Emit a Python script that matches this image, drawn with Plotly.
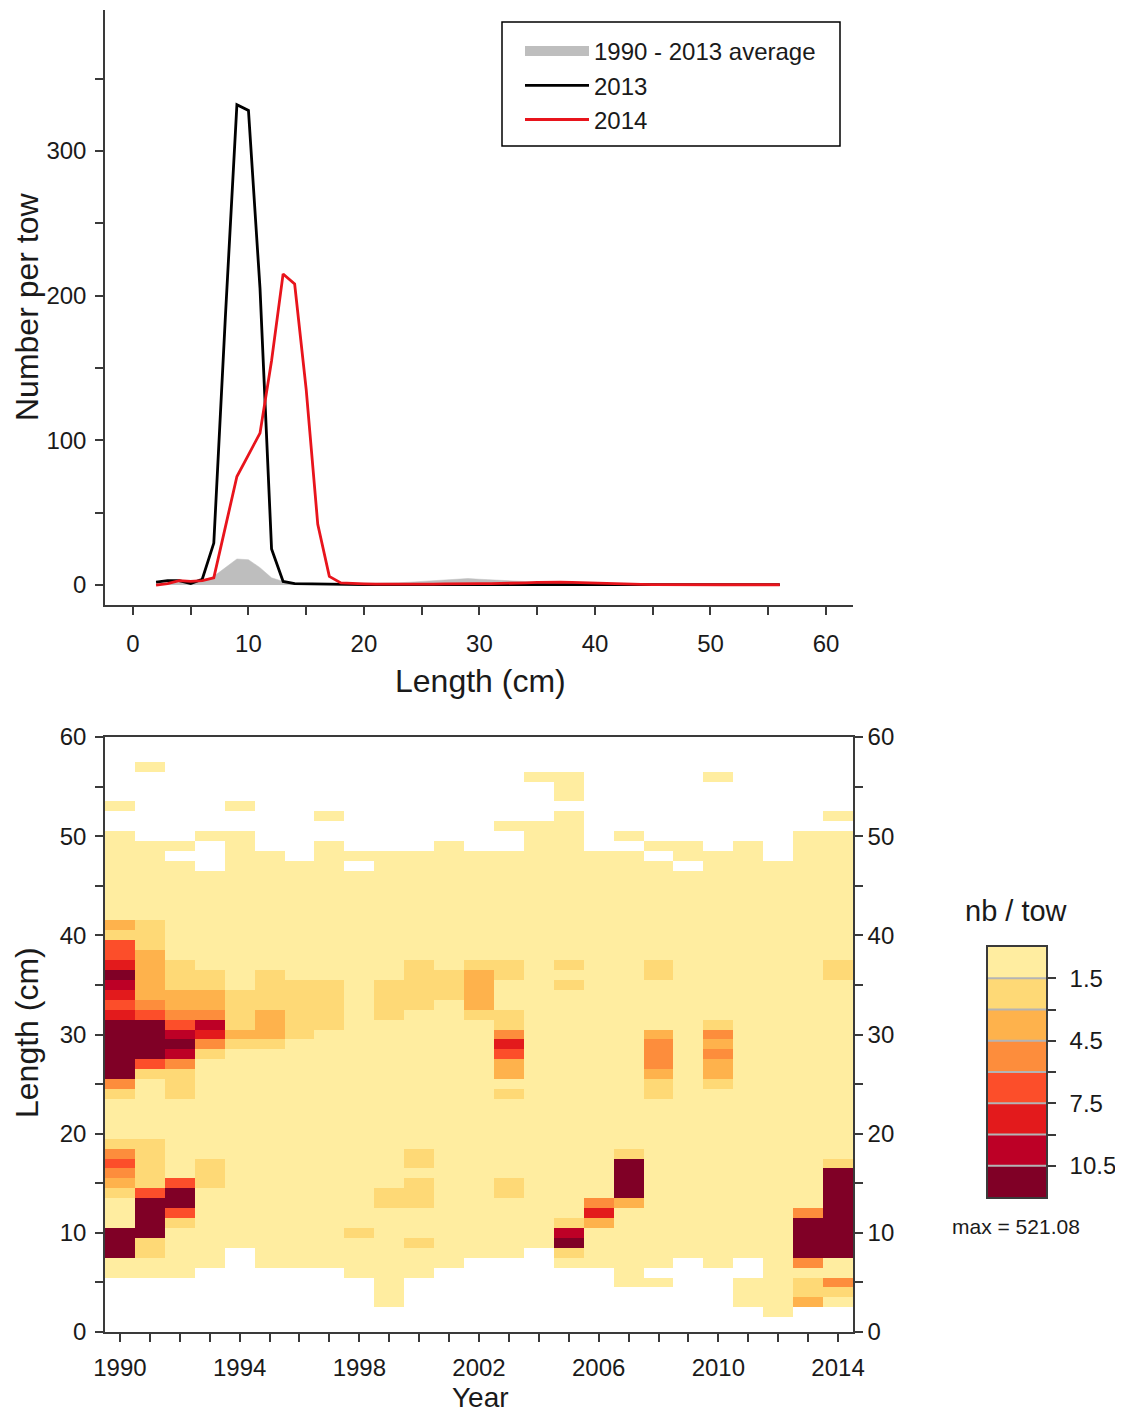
import numpy as np
import plotly.graph_objects as go

# ---------------- top panel data ----------------
lengths_cm = list(range(2, 57))
avg_1990_2013 = [1.0, 1.5, 2.0, 2.0, 3.0, 6.0, 12.0, 18.0, 17.5, 12.0,
                 5.0, 2.5, 1.5, 1.0, 1.0, 1.0, 1.0, 1.0, 1.0, 1.0,
                 1.2, 1.5, 2.0, 2.5, 3.0, 3.5, 4.0, 4.5, 4.0, 3.5,
                 3.0, 2.5, 2.0, 2.0, 1.8, 1.8, 1.6, 1.5, 1.4, 1.2,
                 1.0, 0.9, 0.8, 0.7, 0.6, 0.5, 0.4, 0.3, 0.3, 0.2,
                 0.2, 0.1, 0.1, 0.1, 0.1]
n_2013 = [2, 3, 3, 1, 4, 29, 185, 332, 328, 205,
          25, 2.5, 1, 0.8, 0.6, 0.5, 0.4, 0.3, 0.3, 0.3,
          0.3, 0.3, 0.3, 0.3, 0.3, 0.3, 0.3, 0.3, 0.3, 0.3,
          0.3, 0.3, 0.3, 0.3, 0.3, 0.3, 0.3, 0.3, 0.3, 0.3,
          0.3, 0.3, 0.3, 0.3, 0.3, 0.3, 0.3, 0.3, 0.3, 0.3,
          0.3, 0.3, 0.3, 0.3, 0.3]
n_2014 = [0, 1, 3, 2.5, 3, 5, 40, 75, 90, 105,
          155, 215, 208, 135, 42, 6, 1.5, 1, 0.8, 0.6,
          0.5, 0.5, 0.4, 0.5, 0.6, 0.8, 1.0, 1.0, 1.0, 1.0,
          1.0, 1.2, 1.5, 1.8, 2.0, 2.0, 1.8, 1.5, 1.2, 1.0,
          1.0, 0.8, 0.5, 0.3, 0.2, 0.2, 0.2, 0.2, 0.2, 0.2,
          0.2, 0.2, 0.2, 0.2, 0.2]

# ---------------- heatmap data ----------------
years = list(range(1990, 2015))
length_bins = list(range(0, 61))
level_colors = ["#FFEDA0", "#FED976", "#FEB24C", "#FD8D3C",
                "#FC4E2A", "#E31A1C", "#BD0026", "#800026"]
level_edges = [0, 1.5, 3, 4.5, 6, 7.5, 9, 10.5, 12]
cbar_tickvals = [1.5, 3, 4.5, 6, 7.5, 9, 10.5]
cbar_ticktext = ["1.5", "", "4.5", "", "7.5", "", "10.5"]
max_value = 521.08

# (from length, to length, class level); 0 = no catch (empty)
year_cells = {
    1990: [(6, 50, 1), (53, 53, 1), (41, 41, 3), (40, 40, 2), (38, 39, 5), (37, 37, 6),
           (36, 36, 8), (35, 35, 7), (34, 34, 6), (33, 33, 5), (32, 32, 6), (26, 31, 8),
           (25, 25, 4), (24, 24, 2), (19, 19, 2), (18, 18, 4), (17, 17, 5), (16, 16, 4),
           (15, 15, 3), (14, 14, 2), (8, 10, 8)],
    1991: [(6, 49, 1), (57, 57, 1), (39, 41, 2), (34, 38, 3), (33, 33, 4), (32, 32, 5),
           (28, 31, 8), (27, 27, 5), (26, 26, 2), (15, 19, 2), (14, 14, 5), (10, 13, 8),
           (8, 9, 2)],
    1992: [(6, 49, 1), (48, 48, 0), (35, 37, 2), (33, 34, 3), (32, 32, 4), (31, 31, 5),
           (30, 30, 7), (29, 29, 8), (28, 28, 7), (27, 27, 4), (24, 26, 2), (15, 15, 5),
           (13, 14, 8), (12, 12, 5), (11, 11, 2)],
    1993: [(7, 50, 1), (47, 49, 0), (35, 36, 2), (33, 34, 3), (32, 32, 4), (31, 31, 7),
           (30, 30, 6), (29, 29, 4), (28, 28, 2), (15, 17, 2)],
    1994: [(9, 50, 1), (53, 53, 1), (31, 34, 2), (30, 30, 3), (29, 29, 2)],
    1995: [(7, 48, 1), (33, 36, 2), (30, 32, 3), (29, 29, 2)],
    1996: [(7, 47, 1), (30, 35, 2)],
    1997: [(7, 49, 1), (52, 52, 1), (31, 35, 2)],
    1998: [(6, 48, 1), (47, 47, 0), (10, 10, 2)],
    1999: [(3, 48, 1), (32, 35, 2), (13, 14, 2)],
    2000: [(6, 48, 1), (33, 37, 2), (17, 18, 2), (13, 15, 2), (9, 9, 2)],
    2001: [(7, 49, 1), (34, 36, 2)],
    2002: [(8, 48, 1), (37, 37, 2), (33, 36, 3), (32, 32, 2)],
    2003: [(8, 48, 1), (51, 51, 1), (36, 37, 2), (31, 32, 2), (30, 30, 4), (29, 29, 6),
           (28, 28, 5), (26, 27, 3), (24, 24, 2), (14, 15, 2)],
    2004: [(9, 51, 1), (56, 56, 1)],
    2005: [(7, 52, 1), (54, 56, 1), (37, 37, 2), (35, 35, 2), (11, 11, 2), (10, 10, 7),
           (9, 9, 8), (8, 8, 2)],
    2006: [(7, 48, 1), (13, 13, 4), (12, 12, 6), (11, 11, 3)],
    2007: [(5, 48, 1), (50, 50, 1), (18, 18, 2), (14, 17, 8), (13, 13, 3)],
    2008: [(5, 49, 1), (48, 48, 0), (6, 6, 0), (36, 37, 2), (30, 30, 3), (27, 29, 4),
           (26, 26, 3), (24, 25, 2)],
    2009: [(8, 49, 1), (47, 47, 0)],
    2010: [(7, 48, 1), (56, 56, 1), (31, 31, 2), (30, 30, 4), (29, 29, 3), (28, 28, 4),
           (26, 27, 3), (25, 25, 2)],
    2011: [(8, 49, 1), (3, 5, 1)],
    2012: [(2, 47, 1)],
    2013: [(3, 50, 1), (12, 12, 4), (8, 11, 8), (7, 7, 4), (4, 5, 2), (3, 3, 3)],
    2014: [(3, 50, 1), (52, 52, 1), (36, 37, 2), (17, 17, 2), (8, 16, 8), (5, 5, 4),
           (4, 4, 2)],
}

# ---------------- build ----------------
level_mid = [(level_edges[k] + level_edges[k + 1]) / 2 for k in range(len(level_colors))]
z = np.full((len(length_bins), len(years)), np.nan)
for j, yr in enumerate(years):
    for lo, hi, lev in year_cells[yr]:
        for L in range(lo, hi + 1):
            z[L, j] = np.nan if lev == 0 else level_mid[lev - 1]

nlev = len(level_colors)
cscale = []
for k, c in enumerate(level_colors):
    cscale += [[k / nlev, c], [(k + 1) / nlev, c]]

# page has an 8px body margin: size the figure so the page fits the window
OFF = 8
W, H = 1123 - 2 * OFF, 1423 - 2 * OFF
FONT = "Liberation Sans, Arial, sans-serif"
TXT = "#1a1a1a"
AX = "#3a3a3a"


def px_x(v):
    return (v - OFF) / W


def px_y(v):
    return 1 - (v - OFF) / H


fig = go.Figure()

fig.add_trace(go.Scatter(x=lengths_cm, y=avg_1990_2013, mode="lines", fill="tozeroy",
                         fillcolor="#BEBEBE", line=dict(color="#BEBEBE", width=0.5),
                         showlegend=False, xaxis="x", yaxis="y"))
fig.add_trace(go.Scatter(x=[None], y=[None], mode="lines", name="1990 - 2013 average",
                         line=dict(color="#BEBEBE", width=10), xaxis="x", yaxis="y"))
fig.add_trace(go.Scatter(x=lengths_cm, y=n_2013, mode="lines", name="2013",
                         line=dict(color="#000000", width=2.8), xaxis="x", yaxis="y"))
fig.add_trace(go.Scatter(x=lengths_cm, y=n_2014, mode="lines", name="2014",
                         line=dict(color="#E8141C", width=2.8), xaxis="x", yaxis="y"))

fig.add_trace(go.Heatmap(x=years, y=length_bins, z=z, colorscale=cscale, zmin=0, zmax=12,
                         showscale=False, hoverongaps=False, xaxis="x2", yaxis="y2"))
fig.add_trace(go.Scatter(x=[None], y=[None], showlegend=False, xaxis="x2", yaxis="y4"))

fig.add_trace(go.Heatmap(x=[0], y=level_mid, z=[[m] for m in level_mid], colorscale=cscale,
                         zmin=0, zmax=12, showscale=False, xaxis="x3", yaxis="y3"))

xdom = [px_x(105), px_x(853)]
tick_common = dict(ticks="outside", ticklen=8, tickwidth=1.5, tickcolor=AX, showline=True,
                   linecolor=AX, linewidth=1.5, showgrid=False, zeroline=False,
                   automargin=False,
                   tickfont=dict(family=FONT, size=24, color=TXT))

fig.update_layout(
    width=W, height=H, margin=dict(l=0, r=0, t=0, b=0, autoexpand=False),
    paper_bgcolor="white", plot_bgcolor="white",
    font=dict(family=FONT, color=TXT),
    xaxis=dict(domain=xdom, anchor="y", range=[-2.42, 62.34],
               tickvals=list(range(0, 61, 5)),
               ticktext=[str(v) if v % 10 == 0 else "" for v in range(0, 61, 5)],
               ticklabelstandoff=8, **tick_common),
    yaxis=dict(domain=[px_y(605), px_y(10)], anchor="x", range=[-13.8, 397.4],
               tickvals=list(range(0, 351, 50)),
               ticktext=[str(v) if v % 100 == 0 else "" for v in range(0, 351, 50)],
               ticklabelstandoff=4, **tick_common),
    xaxis2=dict(domain=xdom, anchor="y2", range=[1989.5, 2014.5], mirror=True,
                tickvals=years,
                ticktext=[str(y) if (y - 1990) % 4 == 0 else "" for y in years],
                ticklabelstandoff=5, **tick_common),
    yaxis2=dict(domain=[px_y(1332), px_y(737)], anchor="x2", range=[0, 60],
                tickvals=list(range(0, 61, 5)),
                ticktext=[str(v) if v % 10 == 0 else "" for v in range(0, 61, 5)],
                ticklabelstandoff=4, **tick_common),
    yaxis4=dict(overlaying="y2", anchor="x2", side="right", range=[0, 60],
                tickvals=list(range(0, 61, 5)),
                ticktext=[str(v) if v % 10 == 0 else "" for v in range(0, 61, 5)],
                **tick_common),
    xaxis3=dict(domain=[px_x(988), px_x(1046)], anchor="y3", range=[-0.5, 0.5],
                showticklabels=False, ticks="", showline=True, mirror=True,
                linecolor=AX, linewidth=1.5, showgrid=False, zeroline=False,
                automargin=False),
    yaxis3=dict(domain=[px_y(1197), px_y(947)], anchor="x3", range=[12, 0], side="right",
                tickvals=cbar_tickvals, ticktext=cbar_ticktext, mirror=True,
                ticklabelstandoff=9, **tick_common),
    legend=dict(x=px_x(520), y=px_y(29), xanchor="left", yanchor="top",
                borderwidth=0, bgcolor="rgba(0,0,0,0)",
                font=dict(family=FONT, size=24, color=TXT), itemwidth=64),
    showlegend=True,
)

shapes = [dict(type="rect", xref="paper", yref="paper",
               x0=px_x(502), x1=px_x(840), y0=px_y(146), y1=px_y(22),
               line=dict(color="#000000", width=1.5), fillcolor="rgba(0,0,0,0)", layer="below")]
for e in level_edges[1:-1]:
    shapes.append(dict(type="line", xref="x3", yref="y3", x0=-0.5, x1=0.5, y0=e, y1=e,
                       line=dict(color="#B4B4B4", width=2)))
fig.update_layout(shapes=shapes)

ann = [
    dict(text="Number per tow", x=px_x(27), y=px_y(307), textangle=-90, size=32, ya="middle"),
    dict(text="Length (cm)", x=px_x(480), y=px_y(681), textangle=0, size=32, ya="middle"),
    dict(text="Length (cm)", x=px_x(27), y=px_y(1033), textangle=-90, size=32, ya="middle"),
    dict(text="Year", x=px_x(480), y=px_y(1415), textangle=0, size=28, ya="bottom"),
    dict(text="nb / tow", x=px_x(1016), y=px_y(911), textangle=0, size=29, ya="middle"),
    dict(text="max = " + f"{max_value:.2f}", x=px_x(1016), y=px_y(1226), textangle=0,
         size=21, ya="middle"),
]
fig.update_layout(annotations=[
    dict(text=a["text"], x=a["x"], y=a["y"], xref="paper", yref="paper", showarrow=False,
         textangle=a["textangle"], xanchor="center", yanchor=a["ya"],
         font=dict(family=FONT, size=a["size"], color=TXT)) for a in ann])

fig.write_html("out.html")
